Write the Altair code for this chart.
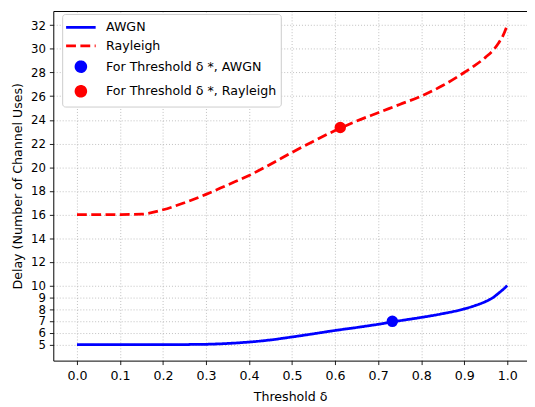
import altair as alt
import pandas as pd

# ---- data ----
x_vals = [0.0, 0.05, 0.1, 0.15, 0.2, 0.25, 0.3, 0.35, 0.4, 0.45, 0.5, 0.55, 0.6,
          0.65, 0.7, 0.75, 0.8, 0.85, 0.9, 0.925, 0.95, 0.97, 0.98, 0.99, 1.0]
awgn = [5.0, 5.0, 5.0, 5.0, 5.0, 5.01, 5.03, 5.1, 5.22, 5.4, 5.65, 5.92, 6.2,
        6.45, 6.72, 7.02, 7.3, 7.62, 8.02, 8.3, 8.65, 9.05, 9.35, 9.65, 10.0]
rayleigh = [16.0, 16.0, 16.0, 16.03, 16.4, 17.0, 17.7, 18.5, 19.3, 20.25, 21.25, 22.2, 23.1,
            23.9, 24.6, 25.3, 26.0, 26.9, 28.0, 28.6, 29.3, 30.0, 30.5, 31.1, 32.0]

star_x = [0.733, 0.612]
star_y = [6.97, 23.36]

labels = ["AWGN", "Rayleigh", "For Threshold δ *, AWGN", "For Threshold δ *, Rayleigh"]
colors = ["#0000ff", "#ff0000", "#0000ff", "#ff0000"]
x_ticks = [0.0, 0.1, 0.2, 0.3, 0.4, 0.5, 0.6, 0.7, 0.8, 0.9, 1.0]
y_ticks = [5, 6, 7, 8, 9, 10, 12, 14, 16, 18, 20, 22, 24, 26, 28, 30, 32]

lines_df = pd.DataFrame({
    "x": x_vals + x_vals,
    "y": awgn + rayleigh,
    "label": [labels[0]] * len(x_vals) + [labels[1]] * len(x_vals),
})
pts_df = pd.DataFrame({"x": star_x, "y": star_y, "label": labels[2:]})

FONT = "DejaVu Sans"
FS = 12.8

LINE_PATH = "M-1.875,0H1.875"
CIRC_PATH = "M-0.62,0A0.62,0.62 0 1,0 0.62,0A0.62,0.62 0 1,0 -0.62,0Z"

legend = alt.Legend(
    title=None, orient="none", legendX=9, legendY=3,
    fillColor="white", strokeColor="#cccccc", cornerRadius=3, padding=4,
    labelFont=FONT, labelFontSize=FS, labelColor="black",
    symbolSize=256, symbolStrokeWidth=2.8, symbolOffset=5.5, labelOffset=16,
    rowPadding=2, symbolOpacity=1, labelLimit=400,
    symbolType=alt.ExprRef(expr=f"datum.index >= 2 ? '{CIRC_PATH}' : '{LINE_PATH}'"),
    symbolDash=alt.ExprRef(expr="datum.index == 1 ? [10, 4.5] : [1, 0]"),
)

color = alt.Color("label:N", scale=alt.Scale(domain=labels, range=colors), legend=legend)

xscale = alt.Scale(domain=[-0.055, 1.046], nice=False, zero=False)
yscale = alt.Scale(domain=[3.65, 33.2], nice=False, zero=False)

axis_common = dict(
    labelFont=FONT, labelColor="black", labelOverlap=False,
    titleFont=FONT, titleFontSize=FS, titleColor="black", titleFontWeight="normal",
    domainColor="black", domainWidth=1, tickColor="black", tickSize=4, tickWidth=0.9,
    gridColor="#b0b0b0", gridDash=[1, 2], gridWidth=0.8,
)

y_axis = alt.Axis(values=y_ticks, format="d", title="Delay (Number of Channel Uses)",
                  titlePadding=6, labelPadding=4, labelFontSize=11.9, **axis_common)

lines = alt.Chart(lines_df).mark_line(strokeWidth=2.8, interpolate="monotone").encode(
    x=alt.X("x:Q", scale=xscale,
            axis=alt.Axis(values=x_ticks, format=".1f", title="Threshold δ", titlePadding=9,
                          labelPadding=5, labelFontSize=FS, **axis_common)),
    y=alt.Y("y:Q", scale=yscale, axis=y_axis),
    color=color,
    strokeDash=alt.StrokeDash("label:N", scale=alt.Scale(domain=labels[:2], range=[[1, 0], [10, 4.5]]),
                              legend=None),
)

points = alt.Chart(pts_df).mark_point(filled=True, size=135, opacity=1, shape="circle").encode(
    x=alt.X("x:Q", scale=xscale,
            axis=alt.Axis(orient="top", labels=False, ticks=False, grid=False, title=None,
                          domainColor="black", domainWidth=1)),
    y=alt.Y("y:Q", scale=yscale, axis=y_axis),
    color=color,
)

chart = alt.layer(lines, points).resolve_axis(x="independent").properties(
    width=481, height=355,
    autosize=alt.AutoSizeParams(type="none"),
    padding={"left": 46, "top": 0, "right": 0, "bottom": 42},
).configure_view(stroke=None)

chart.save("out.html", embed_options={"renderer": "svg", "actions": False})
